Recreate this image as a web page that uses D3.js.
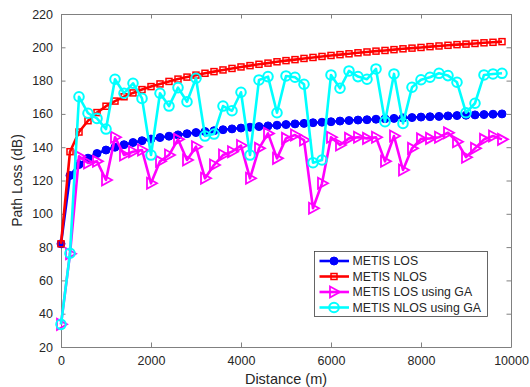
<!DOCTYPE html>
<html>
<head>
<meta charset="utf-8">
<script src="https://cdn.jsdelivr.net/npm/d3@7"></script>
<style>
  body { margin: 0; background: #fff; }
  text { font-family: "Liberation Sans", Arial, sans-serif; }
</style>
</head>
<body>
<svg id="chart" width="530" height="387"></svg>
<script>
// Distances (m), one point every 200 m
const distance = d3.range(0, 10000, 200);

// METIS LOS / NLOS model curves (dB)
const losValues = [82, 123.0, 129.6, 133.4, 136.2, 138.3, 140.0, 141.5, 142.8, 143.9,
  144.9, 145.8, 146.6, 147.4, 148.1, 148.8, 149.4, 149.9, 150.5, 151.0,
  151.5, 152.0, 152.4, 152.8, 153.2, 153.6, 154.0, 154.3, 154.7, 155.0,
  155.3, 155.7, 156.0, 156.3, 156.5, 156.8, 157.1, 157.3, 157.6, 157.8,
  158.1, 158.3, 158.5, 158.8, 159.0, 159.2, 159.4, 159.6, 159.8, 160.0];
const nlosValues = [82, 137.3, 149.1, 155.9, 160.8, 164.6, 167.7, 170.3, 172.6, 174.6,
  176.4, 178.0, 179.5, 180.9, 182.1, 183.3, 184.4, 185.4, 186.4, 187.3,
  188.2, 189.0, 189.8, 190.5, 191.3, 192.0, 192.6, 193.3, 193.9, 194.5,
  195.1, 195.6, 196.1, 196.7, 197.2, 197.7, 198.1, 198.6, 199.1, 199.5,
  199.9, 200.4, 200.8, 201.2, 201.6, 201.9, 202.3, 202.7, 203.0, 203.4];

// GA estimates (dB)
const losGaValues = [33.6, 76, 134.5, 130.5, 131.5, 120.3, 146, 135.3, 137.3, 138.3,
  118.3, 131.5, 135.3, 144.7, 132.3, 140.3, 121.3, 129.3, 135.3, 137.3,
  141, 121.3, 139.3, 148.3, 133.3, 145.3, 147.3, 144.3, 103.3, 118.3,
  146, 141.3, 145.3, 146, 145.3, 146, 131.5, 146.7, 126.3, 139.3,
  145, 145.3, 146, 148.7, 143.3, 134, 139.3, 144.7, 146.7, 144.7];
const nlosGaValues = [33.6, 76.3, 170.3, 160.4, 157.3, 150.9, 180.8, 172.4, 178.4, 169.3,
  135.3, 172.4, 164.7, 175.8, 167.3, 181.4, 146.7, 147.9, 164.7, 161.9,
  173, 135.3, 180.4, 182.4, 160.7, 182.8, 182, 177.8, 130.7, 132.3,
  183.4, 175.4, 185.8, 182.4, 180.8, 187, 155.3, 184, 154.3, 176,
  180.5, 182, 184.4, 183, 179, 160.7, 166.4, 183.4, 184, 184.4];

const xTicks = [0, 2000, 4000, 6000, 8000, 10000];
const yTicks = d3.range(20, 221, 20);

const seriesNames = ['METIS LOS', 'METIS NLOS', 'METIS LOS using GA', 'METIS NLOS using GA'];
const seriesColors = ['#0000ff', '#ff0000', '#ff00ff', '#00ffff'];
const seriesMarkers = ['dot', 'square', 'triangle', 'circle'];
const seriesValues = [losValues, nlosValues, losGaValues, nlosGaValues];

const margin = { left: 61, right: 19, top: 14, bottom: 40 };
const width = 530, height = 387;
const axisColor = '#808080';
const labelColor = '#262626';

const svg = d3.select('#chart');

const x = d3.scaleLinear().domain([0, 10000]).range([margin.left, width - margin.right]);
const y = d3.scaleLinear().domain([20, 220]).range([height - margin.bottom, margin.top]);

// Axes (MATLAB style box with inward ticks on every side)
const tickLen = 4.5;
const axisBottom = svg.append('g')
  .attr('transform', `translate(0,${y(20)})`)
  .call(d3.axisBottom(x).tickValues(xTicks).tickFormat(d3.format('d'))
    .tickSizeInner(-tickLen).tickSizeOuter(0).tickPadding(9));
const axisLeft = svg.append('g')
  .attr('transform', `translate(${x(0)},0)`)
  .call(d3.axisLeft(y).tickValues(yTicks).tickSizeInner(-tickLen).tickSizeOuter(0).tickPadding(8));
const axisTop = svg.append('g')
  .attr('transform', `translate(0,${y(220)})`)
  .call(d3.axisTop(x).tickValues(xTicks).tickSizeInner(-tickLen).tickSizeOuter(0).tickFormat(''));
const axisRight = svg.append('g')
  .attr('transform', `translate(${x(10000)},0)`)
  .call(d3.axisRight(y).tickValues(yTicks).tickSizeInner(-tickLen).tickSizeOuter(0).tickFormat(''));

[axisBottom, axisLeft, axisTop, axisRight].forEach(a => {
  a.select('.domain').attr('stroke', axisColor).attr('stroke-width', 1);
  a.selectAll('.tick line').attr('stroke', axisColor);
  a.selectAll('.tick text')
    .attr('fill', labelColor)
    .style('font-size', '12.5px')
    .style('font-family', '"Liberation Sans", Arial, sans-serif');
});

// Axis titles
svg.append('text')
  .attr('x', (x(0) + x(10000)) / 2)
  .attr('y', 384)
  .attr('text-anchor', 'middle')
  .attr('fill', labelColor)
  .style('font-size', '14.5px')
  .text('Distance (m)');

svg.append('text')
  .attr('transform', `translate(22,${(y(20) + y(220)) / 2}) rotate(-90)`)
  .attr('text-anchor', 'middle')
  .attr('fill', labelColor)
  .style('font-size', '14px')
  .text('Path Loss (dB)');

// Marker drawing helper
function drawMarker(sel, kind, color) {
  if (kind === 'dot') {
    sel.append('circle').attr('r', 4).attr('fill', color).attr('stroke', color).attr('stroke-width', 1);
  } else if (kind === 'square') {
    sel.append('rect').attr('x', -3).attr('y', -3).attr('width', 6).attr('height', 6)
      .attr('fill', 'none').attr('stroke', color).attr('stroke-width', 1.5);
  } else if (kind === 'triangle') {
    sel.append('path').attr('d', 'M-4,-5.5L6,0L-4,5.5Z')
      .attr('fill', 'none').attr('stroke', color).attr('stroke-width', 1.8);
  } else {
    sel.append('circle').attr('r', 4.8)
      .attr('fill', 'none').attr('stroke', color).attr('stroke-width', 2);
  }
}

const line = d3.line().x(d => x(d.d)).y(d => y(d.v));

const plot = svg.append('g');
seriesValues.forEach((vals, i) => {
  const pts = distance.map((d, j) => ({ d: d, v: vals[j] }));
  const g = plot.append('g').attr('class', 'series');
  g.append('path')
    .datum(pts)
    .attr('d', line)
    .attr('fill', 'none')
    .attr('stroke', seriesColors[i])
    .attr('stroke-width', 2.6)
    .attr('stroke-linejoin', 'round');
  g.selectAll('g.marker')
    .data(pts)
    .join('g')
    .attr('class', 'marker')
    .attr('transform', d => `translate(${x(d.d)},${y(d.v)})`)
    .each(function () { drawMarker(d3.select(this), seriesMarkers[i], seriesColors[i]); });
});

// Legend
const legend = svg.append('g').attr('transform', 'translate(314.5,251.5)');
legend.append('rect')
  .attr('width', 173)
  .attr('height', 65)
  .attr('fill', '#fff')
  .attr('stroke', '#404040')
  .attr('stroke-width', 0.8);

seriesNames.forEach((name, i) => {
  const row = legend.append('g').attr('transform', `translate(0,${9.5 + i * 15.5})`);
  row.append('line')
    .attr('x1', 5).attr('x2', 34.5)
    .attr('stroke', seriesColors[i])
    .attr('stroke-width', 2.6);
  const m = row.append('g').attr('transform', 'translate(19.5,0)');
  drawMarker(m, seriesMarkers[i], seriesColors[i]);
  row.append('text')
    .attr('x', 38)
    .attr('y', 4.3)
    .attr('fill', labelColor)
    .style('font-size', '12.3px')
    .text(name);
});
</script>
</body>
</html>
